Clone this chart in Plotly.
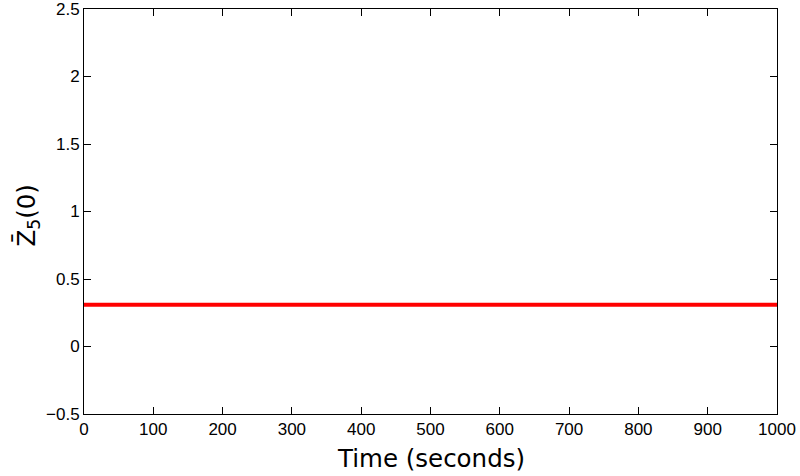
import plotly.graph_objects as go

# data
time_s = [0, 250, 500, 750, 1000]
z5_0 = [0.31, 0.31, 0.31, 0.31, 0.31]

x_ticks = [0, 100, 200, 300, 400, 500, 600, 700, 800, 900, 1000]
y_ticks = [-0.5, 0, 0.5, 1, 1.5, 2, 2.5]
y_labels = ["\u22120.5", "0", "0.5", "1", "1.5", "2", "2.5"]

x_title = "Time (seconds)"
y_title = "Z\u0304<sub>5</sub>(0)"

fig = go.Figure()
fig.add_trace(go.Scatter(
    x=time_s, y=z5_0, mode="lines",
    line=dict(color="#ff0000", width=4),
    showlegend=False,
))

axis_common = dict(
    showline=True, linecolor="black", linewidth=1, mirror="ticks",
    ticks="inside", ticklen=7, tickcolor="black", tickwidth=1,
    showgrid=False, zeroline=False, automargin=False,
    ticklabeloverflow="allow",
    tickfont=dict(family="Liberation Sans, Arial, sans-serif", size=17, color="black"),
)

fig.update_xaxes(range=[0, 1000], tickvals=x_ticks, **axis_common)
fig.update_yaxes(range=[-0.5, 2.5], tickvals=y_ticks, ticktext=y_labels, **axis_common)

title_font = dict(family="DejaVu Sans, sans-serif", size=24.5, color="black")
# axis titles as annotations so they can be placed where the reference has them
fig.add_annotation(text=x_title, xref="paper", yref="paper", x=0.5, y=0,
                   xanchor="center", yanchor="middle", yshift=-44,
                   showarrow=False, font=title_font)
fig.add_annotation(text=y_title, xref="paper", yref="paper", x=0, y=0.5,
                   xanchor="center", yanchor="middle", xshift=-56, yshift=-4,
                   textangle=-90, showarrow=False, font=title_font)

fig.update_layout(
    width=800, height=476,
    margin=dict(l=84, r=23, t=9, b=62, autoexpand=False),
    paper_bgcolor="white", plot_bgcolor="white",
)

# drop the default page margin so the figure sits at the window's corner
fig.write_html("out.html", config={"displayModeBar": False},
               post_script="document.body.style.margin='0';")
